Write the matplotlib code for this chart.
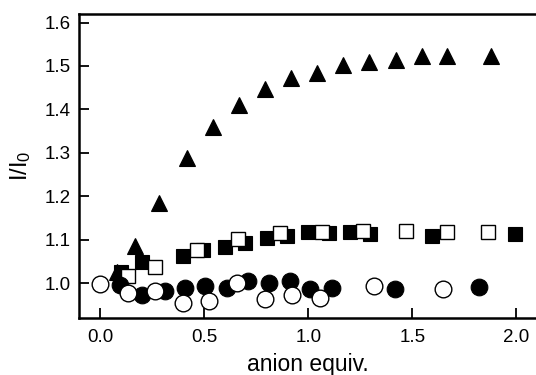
import matplotlib
matplotlib.use("Agg")
import matplotlib.pyplot as plt

plt.rcParams['font.family'] = ['Liberation Sans', 'DejaVu Sans']
plt.rcParams['mathtext.default'] = 'regular'

# Triangles (filled)
tri_x = [0.078, 0.166, 0.283, 0.414, 0.542, 0.667, 0.792, 0.917, 1.042, 1.167, 1.292, 1.419, 1.544, 1.667, 1.876]
tri_y = [1.027, 1.086, 1.184, 1.289, 1.359, 1.411, 1.447, 1.472, 1.484, 1.503, 1.509, 1.514, 1.522, 1.524, 1.524]

# Filled squares
fsq_x = [0.10, 0.198, 0.398, 0.494, 0.598, 0.695, 0.799, 0.895, 0.999, 1.100, 1.200, 1.296, 1.592, 1.993]
fsq_y = [1.027, 1.050, 1.063, 1.077, 1.084, 1.092, 1.104, 1.109, 1.117, 1.115, 1.117, 1.114, 1.109, 1.114]

# Open squares
osq_x = [0.134, 0.262, 0.462, 0.663, 0.863, 1.063, 1.264, 1.469, 1.667, 1.864]
osq_y = [1.017, 1.037, 1.077, 1.102, 1.115, 1.117, 1.121, 1.121, 1.118, 1.117]

# Filled circles
fci_x = [0.094, 0.198, 0.310, 0.406, 0.502, 0.607, 0.711, 0.812, 0.911, 1.007, 1.115, 1.416, 1.821]
fci_y = [0.996, 0.973, 0.981, 0.988, 0.994, 0.988, 1.006, 1.000, 1.006, 0.986, 0.990, 0.986, 0.992]

# Open circles
oci_x = [0.0, 0.134, 0.262, 0.395, 0.523, 0.655, 0.791, 0.919, 1.055, 1.315, 1.645]
oci_y = [0.998, 0.978, 0.983, 0.955, 0.960, 1.000, 0.963, 0.973, 0.965, 0.994, 0.986]

xticks = [0.0, 0.5, 1.0, 1.5, 2.0]
yticks = [1.0, 1.1, 1.2, 1.3, 1.4, 1.5, 1.6]

fig = plt.figure(figsize=(5.36, 3.75), dpi=100)
ax = fig.add_axes([0.1474, 0.152, 0.8526, 0.810])

ax.plot(tri_x, tri_y, linestyle='none', marker='^', ms=11.5, mfc='black', mec='black', mew=0.8, zorder=3)
ax.plot(fsq_x, fsq_y, linestyle='none', marker='s', ms=9.8, mfc='black', mec='black', mew=0.8, zorder=4)
ax.plot(osq_x, osq_y, linestyle='none', marker='s', ms=9.8, mfc='white', mec='black', mew=1.0, zorder=5)
ax.plot(fci_x, fci_y, linestyle='none', marker='o', ms=12, mfc='black', mec='black', mew=0.8, zorder=6)
ax.plot(oci_x, oci_y, linestyle='none', marker='o', ms=12, mfc='white', mec='black', mew=1.0, zorder=7)

ax.set_xlim(-0.103, 2.094)
ax.set_ylim(0.92, 1.619)
ax.set_xticks(xticks)
ax.set_xticklabels([f"{v:.1f}" for v in xticks])
ax.set_yticks(yticks)
ax.set_yticklabels([f"{v:.1f}" for v in yticks])
ax.tick_params(direction='in', length=7, width=1.3, labelsize=13.5)
ax.tick_params(axis='x', pad=8)
ax.tick_params(axis='y', pad=6)

for s in ['left', 'bottom', 'top']:
    ax.spines[s].set_linewidth(1.8)
ax.spines['right'].set_visible(False)

ax.set_xlabel('anion equiv.', fontsize=16.5, labelpad=5)
ax.set_ylabel('I/I$_0$', fontsize=17, labelpad=8)

fig.savefig('out.png', dpi=100)
